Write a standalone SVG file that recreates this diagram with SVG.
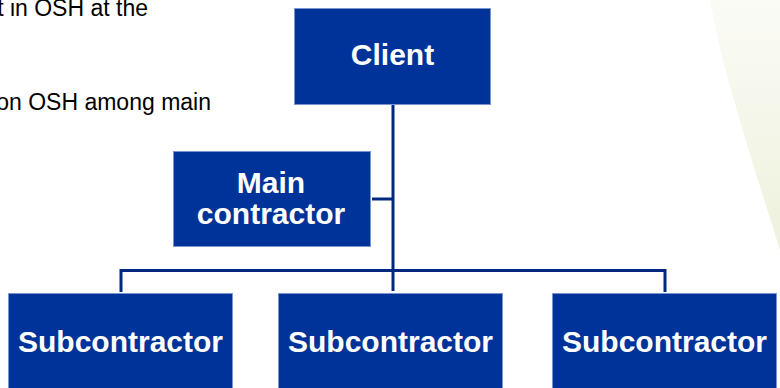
<svg xmlns="http://www.w3.org/2000/svg" width="780" height="388" viewBox="0 0 780 388">
<defs>
<linearGradient id="bg" x1="0" y1="0" x2="0" y2="1">
<stop offset="0" stop-color="#fbfbf6"/>
<stop offset="1" stop-color="#eef1dc"/>
</linearGradient>
</defs>
<style>
.box{fill:#003399;stroke:#7b95d0;stroke-width:1}
.lbl{fill:#ffffff;font-family:"Liberation Sans",Arial,sans-serif;font-weight:bold;font-size:30px;text-anchor:middle}
.body{fill:#000000;font-family:"Liberation Sans",Arial,sans-serif;font-size:23px;text-anchor:end}
.conn{fill:none;stroke:#00287f;stroke-width:3}
</style>
<rect x="0" y="0" width="780" height="388" fill="#ffffff"/>
<path d="M710,0 C722,70 752,160 780,250 L780,0 Z" fill="url(#bg)"/>
<text class="body" x="148" y="16">t in OSH at the</text>
<text class="body" x="211" y="110">on OSH among main</text>
<g id="connectors">
<path class="conn" d="M393,105 V291"/>
<path class="conn" d="M372,199 H393"/>
<path class="conn" d="M121,292 V270.5 H665 V292"/>
</g>
<g id="client">
<rect class="box" x="294.5" y="8.5" width="196" height="96"/>
<text class="lbl" x="392.5" y="65">Client</text>
</g>
<g id="main-contractor">
<rect class="box" x="173.5" y="151.5" width="197" height="95"/>
<text class="lbl" x="271" y="193">Main</text>
<text class="lbl" x="271" y="224">contractor</text>
</g>
<g id="sub1">
<rect class="box" x="8.5" y="293.5" width="224" height="100"/>
<text class="lbl" x="120.5" y="352">Subcontractor</text>
</g>
<g id="sub2">
<rect class="box" x="278.5" y="293.5" width="224" height="100"/>
<text class="lbl" x="390.5" y="352">Subcontractor</text>
</g>
<g id="sub3">
<rect class="box" x="552.5" y="293.5" width="224" height="100"/>
<text class="lbl" x="664.5" y="352">Subcontractor</text>
</g>
</svg>
